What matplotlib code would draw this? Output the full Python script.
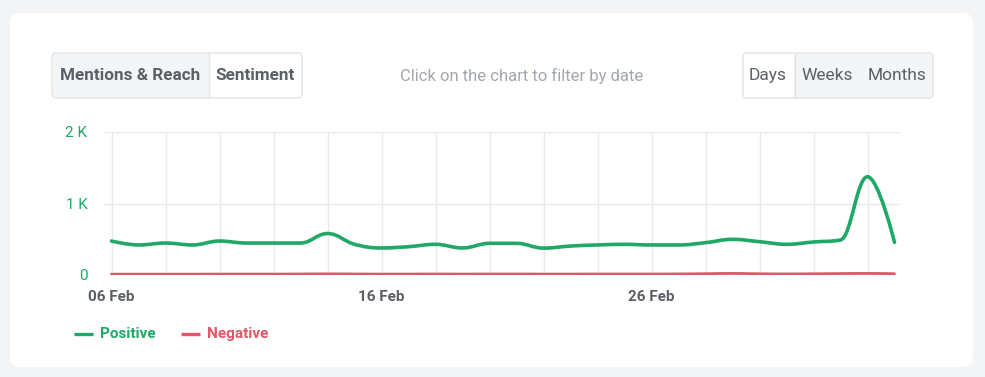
import matplotlib
matplotlib.use("Agg")
import matplotlib.pyplot as plt
from matplotlib.patches import FancyBboxPatch, Rectangle
from matplotlib.path import Path
from matplotlib.patches import PathPatch
import numpy as np

plt.rcParams['font.family'] = ['Roboto', 'DejaVu Sans']

# ---------------- data ----------------
days = list(range(30))  # 06 Feb .. 06 Mar
positive = [475, 420, 447, 420, 475, 447, 447, 447, 580, 430,
            378, 396, 429, 378, 443, 443, 376, 405, 420, 429,
            420, 420, 452, 499, 466, 429, 462, 490, 1375, 457]
negative = [12, 12, 12, 12, 13, 13, 13, 14, 16, 14,
            13, 13, 14, 13, 14, 14, 13, 13, 14, 14,
            14, 15, 18, 22, 17, 15, 17, 20, 22, 18]
xtick_days = [0, 10, 20]
xtick_labels = ["06 Feb", "16 Feb", "26 Feb"]
ytick_vals = [0, 1000, 2000]
ytick_labels = ["0", "1 K", "2 K"]

GREEN = "#1fa866"
RED = "#de5867"
TXT = "#5b5f66"
GRID = "#e8e9eb"

W, H = 985, 377
fig = plt.figure(figsize=(W / 100, H / 100), dpi=100)
fig.patch.set_facecolor("#f3f4f6")

bg = fig.add_axes([0, 0, 1, 1])
bg.set_xlim(0, W)
bg.set_ylim(H, 0)
bg.axis("off")

# card
bg.add_patch(FancyBboxPatch((10, 13), 963, 354, boxstyle="round,pad=0,rounding_size=10",
                            fc="white", ec="none"))

# left button group
bg.add_patch(FancyBboxPatch((52, 53), 250, 45, boxstyle="round,pad=0,rounding_size=4",
                            fc="#f4f5f7", ec="#e2e4e7", lw=1))
bg.add_patch(Rectangle((209, 54), 92, 43, fc="white", ec="none"))
bg.plot([208.5, 208.5], [53.5, 97.5], color="#e2e4e7", lw=1)
bg.text(130, 75.5, "Mentions & Reach", ha="center", va="center", fontsize=12.3,
        fontweight="bold", color=TXT)
bg.text(255, 75.5, "Sentiment", ha="center", va="center", fontsize=12.3,
        fontweight="bold", color=TXT)

# right button group
bg.add_patch(FancyBboxPatch((743, 53), 190, 45, boxstyle="round,pad=0,rounding_size=4",
                            fc="#f4f5f7", ec="#e2e4e7", lw=1))
bg.add_patch(Rectangle((744, 54), 50, 43, fc="white", ec="none"))
bg.plot([794.5, 794.5], [53.5, 97.5], color="#e2e4e7", lw=1)
bg.text(768, 75.5, "Days", ha="center", va="center", fontsize=12.5, color=TXT)
bg.text(827, 75.5, "Weeks", ha="center", va="center", fontsize=12.5, color=TXT)
bg.text(897, 75.5, "Months", ha="center", va="center", fontsize=12.5, color=TXT)

bg.text(522, 75.5, "Click on the chart to filter by date", ha="center", va="center",
        fontsize=12, color="#a3a7ad")

# legend
bg.plot([74, 93], [334, 334], color=GREEN, lw=2.4, solid_capstyle="butt")
bg.text(100, 334, "Positive", ha="left", va="center", fontsize=11, fontweight="bold", color=GREEN)
bg.plot([181, 200], [334, 334], color=RED, lw=2.4, solid_capstyle="butt")
bg.text(207, 334, "Negative", ha="left", va="center", fontsize=11, fontweight="bold", color=RED)

# ---------------- chart axes ----------------
left_px, right_px, top_px, bot_px = 104, 900, 132, 275
ax = fig.add_axes([left_px / W, (H - bot_px) / H, (right_px - left_px) / W, (bot_px - top_px) / H])
ax.set_facecolor("none")
px_per_day = 27.0
x0_px = 111.5
ax.set_xlim(-(x0_px - left_px) / px_per_day, 29 + (right_px - (x0_px + 29 * px_per_day)) / px_per_day)
ax.set_ylim(0, 2000)
for s in ax.spines.values():
    s.set_visible(False)

for v in ytick_vals:
    ax.axhline(v, color=GRID, lw=1, zorder=0)
for d in range(0, 30, 2):
    ax.axvline(d, color=GRID, lw=1, zorder=0)

ax.set_yticks(ytick_vals)
ax.set_yticklabels(ytick_labels, color=GREEN, fontsize=11)
ax.set_xticks(xtick_days)
ax.set_xticklabels(xtick_labels, color=TXT, fontsize=11, fontweight="bold")
ax.tick_params(axis="both", length=0)
ax.tick_params(axis="y", pad=12)
ax.tick_params(axis="x", pad=11)


def spline_path(xs, ys, smoothing=1.5):
    xs = np.asarray(xs, float)
    ys = np.asarray(ys, float)
    n = len(xs)
    lc = [(xs[i], ys[i]) for i in range(n)]
    rc = [(xs[i], ys[i]) for i in range(n)]
    den = smoothing + 1
    for i in range(1, n - 1):
        px, py = xs[i], ys[i]
        lx, ly = xs[i - 1], ys[i - 1]
        nx, ny = xs[i + 1], ys[i + 1]
        lcx = (smoothing * px + lx) / den
        lcy = (smoothing * py + ly) / den
        rcx = (smoothing * px + nx) / den
        rcy = (smoothing * py + ny) / den
        if rcx != lcx:
            corr = ((rcy - lcy) * (rcx - px)) / (rcx - lcx) + py - rcy
            lcy += corr
            rcy += corr
        if lcy > ly and lcy > py:
            lcy = max(ly, py); rcy = 2 * py - lcy
        elif lcy < ly and lcy < py:
            lcy = min(ly, py); rcy = 2 * py - lcy
        if rcy > ny and rcy > py:
            rcy = max(ny, py); lcy = 2 * py - rcy
        elif rcy < ny and rcy < py:
            rcy = min(ny, py); lcy = 2 * py - rcy
        lc[i] = (lcx, lcy)
        rc[i] = (rcx, rcy)
    verts = [(xs[0], ys[0])]
    codes = [Path.MOVETO]
    for i in range(1, n):
        verts += [rc[i - 1], lc[i], (xs[i], ys[i])]
        codes += [Path.CURVE4] * 3
    return Path(verts, codes)

ax.add_patch(PathPatch(spline_path(days, negative), fc="none", ec=RED, lw=2, zorder=3,
                       capstyle="round", joinstyle="round"))
ax.add_patch(PathPatch(spline_path(days, positive), fc="none", ec=GREEN, lw=2.6, zorder=4,
                       capstyle="round", joinstyle="round"))

fig.savefig("out.png", dpi=100, facecolor=fig.get_facecolor())
